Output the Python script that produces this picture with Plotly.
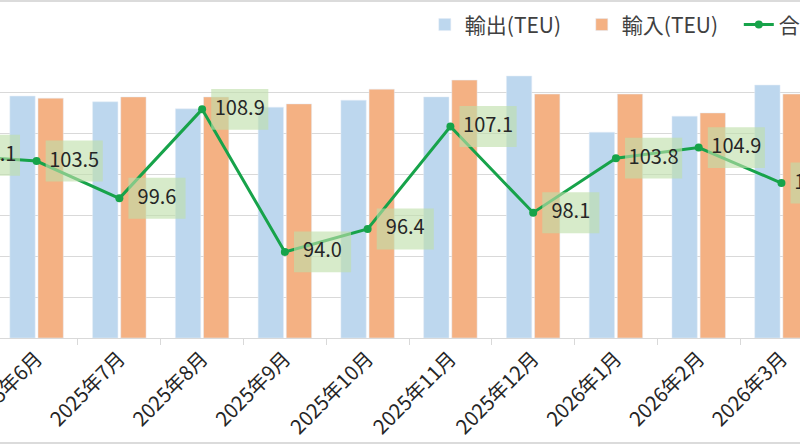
import plotly.graph_objects as go

# 月別コンテナ取扱量 (TEU) と合計の前年同月比
months = ["2025年5月", "2025年6月", "2025年7月", "2025年8月", "2025年9月", "2025年10月",
          "2025年11月", "2025年12月", "2026年1月", "2026年2月", "2026年3月"]
export_teu = [None, 59000, 57600, 55900, 56300, 58000, 58800, 63900, 50200, 54100, 61700]
import_teu = [None, 58500, 58800, 58800, 57100, 60700, 62900, 59500, 59500, 54900, 59500]
total_yoy = [104.1, 103.5, 99.6, 108.9, 94.0, 96.4, 107.1, 98.1, 103.8, 104.9, 101.2]

FONT = "Noto Sans CJK JP"
green = "#17A34A"

fig = go.Figure()
fig.add_trace(go.Bar(x=months, y=export_teu, name="輸出(TEU)", marker_color="#BDD7EE"))
fig.add_trace(go.Bar(x=months, y=import_teu, name="輸入(TEU)", marker_color="#F4B183"))
fig.add_trace(go.Scatter(x=months, y=total_yoy, name="合計(前年同月比%)", yaxis="y2",
                         mode="lines+markers", line=dict(color=green, width=3),
                         marker=dict(color=green, size=8)))

# データラベル (点の右側、薄い緑の背景付き)
for i, v in enumerate(total_yoy):
    fig.add_shape(type="rect", xref="x", yref="y2",
                  x0=i + 0.11, x1=i + 0.80, y0=v - 2.14, y1=v + 2.14,
                  fillcolor="rgba(190,222,170,0.62)", line=dict(width=0), layer="above",
                  label=dict(text=f"{v:.1f}", textposition="middle center",
                             font=dict(family=FONT, size=20, color="#262626")))

# 枠線
fig.add_shape(type="rect", xref="paper", yref="paper", x0=-0.01, x1=1.01, y0=-0.366, y1=1.174,
              line=dict(color="#D0D0D0", width=1.5), fillcolor="rgba(0,0,0,0)", layer="below")

fig.update_layout(
    width=800, height=445,
    margin=dict(l=0, r=0, t=51, b=107, autoexpand=False),
    paper_bgcolor="white", plot_bgcolor="white",
    font=dict(family=FONT, color="#404040"),
    barmode="group", bargap=0.32, bargroupgap=0.1,
    showlegend=True,
    legend=dict(orientation="h", xref="container", yref="container",
                x=0.531, xanchor="left", y=0.944, yanchor="middle",
                entrywidthmode="pixels", entrywidth=112,
                font=dict(family=FONT, size=21, color="#404040"),
                bgcolor="rgba(0,0,0,0)", itemwidth=30),
    xaxis=dict(range=[0.558, 10.224], tickangle=-45, tickson="boundaries",
               ticks="outside", ticklen=6, tickcolor="#D9D9D9", automargin=False,
               showline=True, linecolor="#D9D9D9", linewidth=1, showgrid=False,
               tickfont=dict(family=FONT, size=20, color="#262626")),
    yaxis=dict(range=[0, 70000], dtick=10000, showgrid=True, gridcolor="#D9D9D9",
               showticklabels=False, zeroline=False, automargin=False),
    yaxis2=dict(range=[85, 115], overlaying="y", side="right", showgrid=False,
                showticklabels=False, zeroline=False, automargin=False),
)

fig.write_html("out.html", config={"displayModeBar": False},
               post_script="document.body.style.margin='0';")
